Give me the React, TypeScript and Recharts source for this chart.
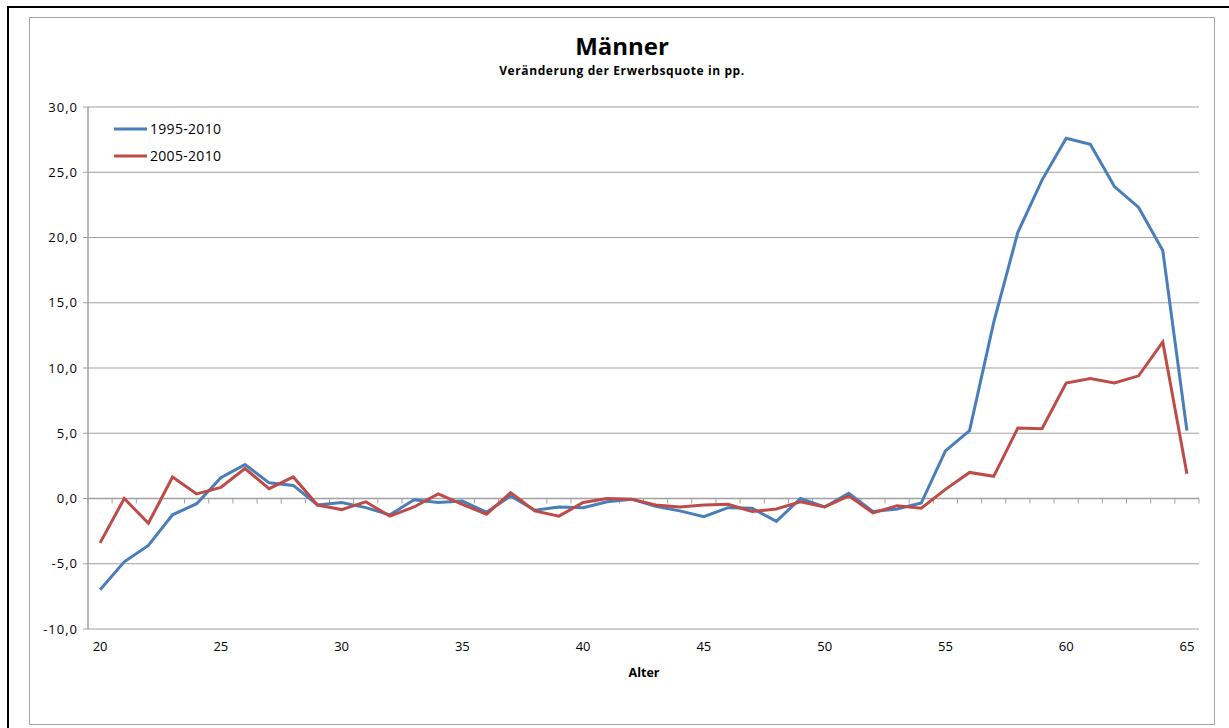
import React from 'react';
import { LineChart, Line, XAxis, YAxis, CartesianGrid, ReferenceLine } from 'recharts';

const AGES = [20, 21, 22, 23, 24, 25, 26, 27, 28, 29, 30, 31, 32, 33, 34, 35, 36, 37, 38, 39, 40, 41, 42, 43, 44, 45, 46, 47, 48, 49, 50, 51, 52, 53, 54, 55, 56, 57, 58, 59, 60, 61, 62, 63, 64, 65];
const S1995 = [-7.0, -4.85, -3.6, -1.25, -0.4, 1.6, 2.6, 1.2, 1.0, -0.5, -0.3, -0.7, -1.25, -0.1, -0.3, -0.2, -1.05, 0.2, -0.9, -0.65, -0.7, -0.25, -0.05, -0.6, -0.95, -1.4, -0.7, -0.75, -1.75, 0.0, -0.65, 0.4, -1.0, -0.8, -0.35, 3.65, 5.2, 13.5, 20.4, 24.4, 27.6, 27.15, 23.9, 22.3, 19.0, 5.2];
const S2005 = [-3.4, 0.0, -1.9, 1.65, 0.35, 0.85, 2.3, 0.75, 1.65, -0.5, -0.85, -0.25, -1.35, -0.65, 0.35, -0.45, -1.2, 0.45, -0.95, -1.35, -0.3, 0.0, -0.05, -0.5, -0.65, -0.5, -0.45, -1.0, -0.8, -0.25, -0.65, 0.2, -1.1, -0.55, -0.75, 0.7, 2.0, 1.7, 5.4, 5.35, 8.85, 9.2, 8.85, 9.4, 12.0, 1.9];
const X_TICKS = [20, 25, 30, 35, 40, 45, 50, 55, 60, 65];
const Y_TICKS = [-10, -5, 0, 5, 10, 15, 20, 25, 30];
const SERIES_NAMES = ['1995-2010', '2005-2010'];
const TITLE = 'Männer';
const SUBTITLE = 'Veränderung der Erwerbsquote in pp.';
const X_LABEL = 'Alter';

const BLUE = '#4a7ebb';
const RED = '#be4b48';
const GRID = '#a0a0a0';
const FONT = '"Open Sans", "Liberation Sans", sans-serif';

const data = AGES.map((a, i) => ({ age: a, s1: S1995[i], s2: S2005[i] }));

const fmt = (v: number) => v.toFixed(1).replace('.', ',');

const ZeroAxis = (props: any) => {
  const { x1, y1, x2, y2 } = props;
  const n = AGES.length;
  const marks = [];
  for (let i = 0; i <= n; i++) {
    const x = x1 + ((x2 - x1) * i) / n;
    marks.push(<line key={i} x1={x} x2={x} y1={y1} y2={y1 + 5} stroke={GRID} strokeWidth={1} />);
  }
  return (
    <g>
      <line x1={x1} y1={y1} x2={x2} y2={y2} stroke={GRID} strokeWidth={1.5} />
      {marks}
    </g>
  );
};

export default function App() {
  return (
    <div style={{ position: 'absolute', left: 0, top: 0, width: 1229, height: 728, background: '#fff', overflow: 'hidden' }}>
      <div style={{ position: 'absolute', left: 7, top: 6, width: 1240, height: 740, borderTop: '2px solid #000', borderLeft: '2px solid #000' }} />
      <div style={{ position: 'absolute', left: 29, top: 17, width: 1184, height: 706, border: '1.5px solid #a6a6a6' }} />
      <div style={{ position: 'absolute', left: 0, top: 0 }}>
        <LineChart width={1229} height={728} data={data} margin={{ top: 107, right: 30, bottom: 59, left: 28 }}>
          <CartesianGrid vertical={false} stroke={GRID} strokeWidth={1.2} />
          <XAxis
            dataKey="age"
            type="number"
            domain={[19.5, 65.5]}
            ticks={X_TICKS}
            axisLine={false}
            tickLine={false}
            tickSize={0}
            tickMargin={13}
            height={40}
            tick={{ fontSize: 13, fill: '#000', fontFamily: FONT }}
            interval={0}
          />
          <YAxis
            type="number"
            domain={[-10, 30]}
            ticks={Y_TICKS}
            tickFormatter={fmt}
            width={60}
            axisLine={{ stroke: GRID, strokeWidth: 1.5 }}
            tickLine={{ stroke: GRID }}
            tickSize={5}
            tickMargin={5}
            tick={{ fontSize: 13, fill: '#000', fontFamily: FONT, letterSpacing: 1 }}
            interval={0}
          />
          <ReferenceLine y={0} shape={ZeroAxis} />
          <Line type="linear" dataKey="s1" name={SERIES_NAMES[0]} stroke={BLUE} strokeWidth={3} dot={false} isAnimationActive={false} />
          <Line type="linear" dataKey="s2" name={SERIES_NAMES[1]} stroke={RED} strokeWidth={3} dot={false} isAnimationActive={false} />
        </LineChart>
      </div>
      <svg width={1229} height={728} style={{ position: 'absolute', left: 0, top: 0, pointerEvents: 'none' }}>
        <text x={622} y={55} textAnchor="middle" fontFamily={FONT} fontWeight="bold" fontSize={24} fill="#000">{TITLE}</text>
        <text x={622} y={75} textAnchor="middle" fontFamily={FONT} fontWeight="bold" fontSize={12} letterSpacing={0.6} fill="#000">{SUBTITLE}</text>
        <text x={644} y={677} textAnchor="middle" fontFamily={FONT} fontWeight="bold" fontSize={12.5} fill="#000">{X_LABEL}</text>
        <line x1={114} x2={147} y1={129} y2={129} stroke={BLUE} strokeWidth={3} />
        <text x={150} y={134} fontFamily={FONT} fontSize={14} letterSpacing={0.3} fill="#000">{SERIES_NAMES[0]}</text>
        <line x1={114} x2={147} y1={156} y2={156} stroke={RED} strokeWidth={3} />
        <text x={150} y={161} fontFamily={FONT} fontSize={14} letterSpacing={0.3} fill="#000">{SERIES_NAMES[1]}</text>
      </svg>
    </div>
  );
}
